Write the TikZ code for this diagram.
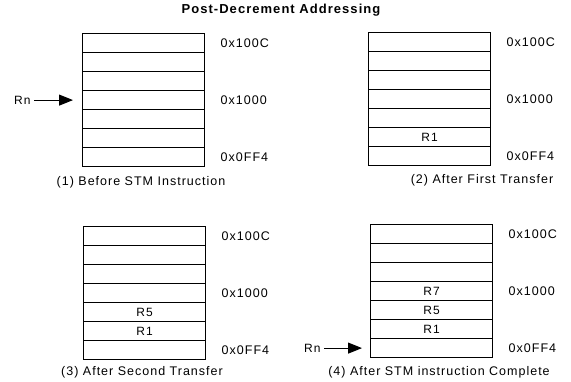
\documentclass[tikz,border=0pt]{standalone}
\usepackage{fontspec}
\setmainfont[LetterSpace=8]{Liberation Sans}
\usetikzlibrary{arrows.meta, positioning}

\begin{document}
\begin{tikzpicture}[x=1pt, y=-1pt,
		% one memory word of a block
		cell/.style={
			draw,
			line width=1.2pt,
			minimum width=122pt,
			minimum height=19pt,
			inner sep=0pt,
			anchor=north west
		},
		% register names (inside the words and the Rn pointer)
		reg/.style={font=\fontsize{12}{14}\selectfont},
		% addresses on the right of a block
		addr/.style={font=\fontsize{12.5}{14}\selectfont},
		% captions below the blocks
		capt/.style={font=\fontsize{12.5}{14}\selectfont},
		% Rn pointer arrow
		ptr/.style={-{Triangle[length=14pt, width=11pt]}, line width=0.9pt, shorten >=9pt}
		]
		\useasboundingbox (0,0) rectangle (571,382);
		
		% --- TITLE ---
		\node[font=\fontsize{13}{15}\selectfont\bfseries] (title) at (281,10) {Post-Decrement Addressing};
		
		% --- MEMORY BLOCKS (7 words each) ---
		\foreach \p/\x/\y in {1/82/33, 2/368/32, 3/83/226, 4/370/224}{
			\foreach \r in {1,...,7}
				\node[cell] (m\p-\r) at (\x,{\y+19*(\r-1)}) {};
			\node[addr, right=12pt of m\p-1] (a\p-1) {0x100C};
			\node[addr, right=12pt of m\p-4] (a\p-4) {0x1000};
			\node[addr, right=12pt of m\p-7] (a\p-7) {0x0FF4};
		}
		
		% --- STORED REGISTERS ---
		\foreach \p in {2,3,4}
			\node[reg] (r1-\p) at (m\p-6) {R1};
		\foreach \p in {3,4}
			\node[reg] (r5-\p) at (m\p-5) {R5};
		\node[reg] (r7-4) at (m4-4) {R7};
		
		% --- Rn POINTER ---
		\node[reg, left=48pt of m1-4] (rn1) {Rn};
		\draw[ptr] (rn1) -- (m1-4);
		\node[reg, left=46pt of m4-7] (rn4) {Rn};
		\draw[ptr, shorten >=8pt] (rn4) -- (m4-7);
		
		% --- CAPTIONS ---
		\node[capt] (c1) at (141,182) {(1) Before STM Instruction};
		\node[capt] (c2) at (482,180) {(2) After First Transfer};
		\node[capt] (c3) at (142,372) {(3) After Second Transfer};
		\node[capt] (c4) at (439,372) {(4) After STM instruction Complete};
		
	\end{tikzpicture}
\end{document}
